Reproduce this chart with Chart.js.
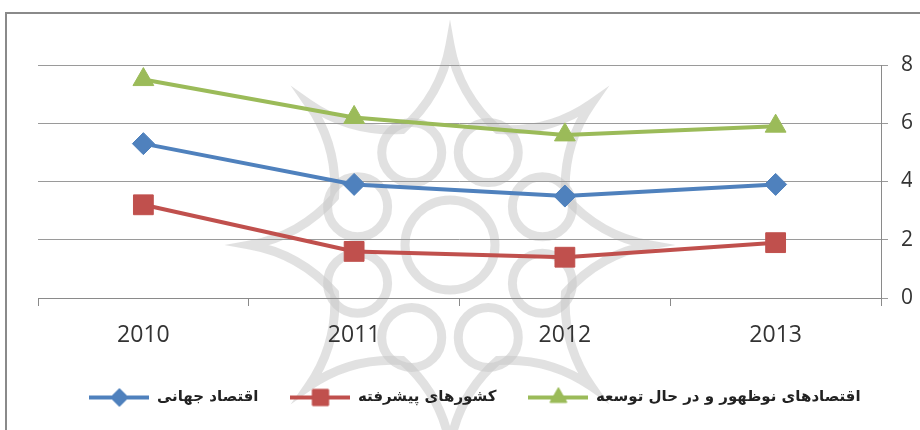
<!DOCTYPE html>
<html>
<head>
<meta charset="utf-8">
<script src="https://cdn.jsdelivr.net/npm/chart.js@4/dist/chart.umd.min.js"></script>
<style>
html,body{margin:0;padding:0;background:#fff;overflow:hidden;}
#wrap{position:relative;width:920px;height:430px;}
</style>
</head>
<body>
<div id="wrap"><canvas id="c" width="920" height="430"></canvas></div>
<script>
// ---- data ----
const years = ['2010', '2011', '2012', '2013'];
const worldEconomy = [5.3, 3.9, 3.5, 3.9];
const advancedEconomies = [3.2, 1.6, 1.4, 1.9];
const emergingEconomies = [7.5, 6.2, 5.6, 5.9];
const seriesNames = ['اقتصاد جهانی', 'کشورهای پیشرفته', 'اقتصادهای نوظهور و در حال توسعه'];
const yTicks = [0, 2, 4, 6, 8];

const colors = ['#4F81BD', '#C0504D', '#9BBB59'];
const styles = ['rectRot', 'rect', 'triangle'];
const radii = [11, 14, 12];

function legendIcon(color, style, r) {
  const cv = document.createElement('canvas');
  cv.width = 60; cv.height = 26;
  const ctx = cv.getContext('2d');
  ctx.strokeStyle = color; ctx.lineWidth = 4;
  ctx.beginPath(); ctx.moveTo(0, 13); ctx.lineTo(60, 13); ctx.stroke();
  ctx.fillStyle = color; ctx.lineWidth = 1;
  Chart.helpers.drawPoint(ctx, {pointStyle: style, radius: r * 0.8, borderWidth: 1}, 30, 13);
  ctx.fill(); ctx.stroke();
  return cv;
}
const icons = colors.map((c, i) => legendIcon(c, styles[i], radii[i]));

// page frame + faint background watermark (decoration, not data)
const frame = {
  id: 'frame',
  beforeDraw(chart) {
    const ctx = chart.ctx;
    ctx.save();
    ctx.fillStyle = '#fff';
    ctx.fillRect(0, 0, 920, 430);
    // watermark emblem
    const cx = 450, cy = 245;
    ctx.strokeStyle = 'rgba(200,200,200,0.55)';
    ctx.lineWidth = 9;
    ctx.beginPath();
    const R = 200, r = 125;
    for (let k = 0; k < 8; k++) {
      const a = -Math.PI / 2 + k * Math.PI / 4;
      const a2 = a + Math.PI / 8;
      const a3 = a + Math.PI / 4;
      const px = cx + R * Math.cos(a), py = cy + R * Math.sin(a);
      const mx = cx + r * Math.cos(a2), my = cy + r * Math.sin(a2);
      const nx = cx + R * Math.cos(a3), ny = cy + R * Math.sin(a3);
      if (k === 0) ctx.moveTo(px, py);
      const c1x = cx + 0.75 * R * Math.cos(a + 0.06), c1y = cy + 0.75 * R * Math.sin(a + 0.06);
      ctx.quadraticCurveTo(c1x, c1y, mx, my);
      const c2x = cx + 0.75 * R * Math.cos(a3 - 0.06), c2y = cy + 0.75 * R * Math.sin(a3 - 0.06);
      ctx.quadraticCurveTo(c2x, c2y, nx, ny);
    }
    ctx.closePath();
    ctx.stroke();
    for (let k = 0; k < 8; k++) {
      const a = -Math.PI / 2 + Math.PI / 8 + k * Math.PI / 4;
      ctx.beginPath();
      ctx.arc(cx + 100 * Math.cos(a), cy + 100 * Math.sin(a), 30, 0, Math.PI * 2);
      ctx.stroke();
    }
    ctx.beginPath();
    ctx.arc(cx, cy, 45, 0, Math.PI * 2);
    ctx.stroke();
    // outer frame
    ctx.strokeStyle = '#8a8a8a';
    ctx.lineWidth = 2;
    ctx.strokeRect(6, 13, 940, 440);
    ctx.restore();
  }
};

const dataSeries = [worldEconomy, advancedEconomies, emergingEconomies];

new Chart(document.getElementById('c'), {
  type: 'line',
  data: {
    labels: years,
    datasets: dataSeries.map((d, i) => ({
      label: seriesNames[i],
      data: d,
      borderColor: colors[i],
      backgroundColor: colors[i],
      borderWidth: 4,
      pointStyle: styles[i],
      pointRadius: radii[i],
      pointHoverRadius: radii[i],
      pointBorderWidth: 1,
      tension: 0
    }))
  },
  options: {
    responsive: false,
    animation: false,
    events: [],
    layout: {padding: {left: 38, right: 8, top: 65, bottom: 15}},
    plugins: {
      tooltip: {enabled: false},
      legend: {
        position: 'bottom',
        labels: {
          usePointStyle: true,
          pointStyleWidth: 60,
          padding: 32,
          color: '#222',
          font: {family: 'DejaVu Sans', size: 15, weight: 'bold'},
          generateLabels(chart) {
            const items = Chart.defaults.plugins.legend.labels.generateLabels(chart);
            items.forEach((it, i) => { it.pointStyle = icons[i]; });
            return items;
          }
        }
      }
    },
    scales: {
      x: {
        offset: true,
        grid: {offset: true, drawOnChartArea: false, drawTicks: true, tickLength: 8, color: '#8a8a8a'},
        border: {color: '#8a8a8a', width: 1},
        ticks: {color: '#333', padding: 16, font: {family: 'Open Sans', size: 23}},
        afterFit(scale) { scale.height = 60; }
      },
      y: {
        position: 'right',
        min: 0, max: 8,
        afterBuildTicks(scale) { scale.ticks = yTicks.map(v => ({value: v})); },
        grid: {color: '#9a9a9a', tickLength: 7},
        border: {color: '#8a8a8a', width: 1},
        ticks: {color: '#333', padding: 13, font: {family: 'Open Sans', size: 21}},
        afterFit(scale) { scale.width = 31; }
      }
    }
  },
  plugins: [frame]
});
</script>
</body>
</html>
